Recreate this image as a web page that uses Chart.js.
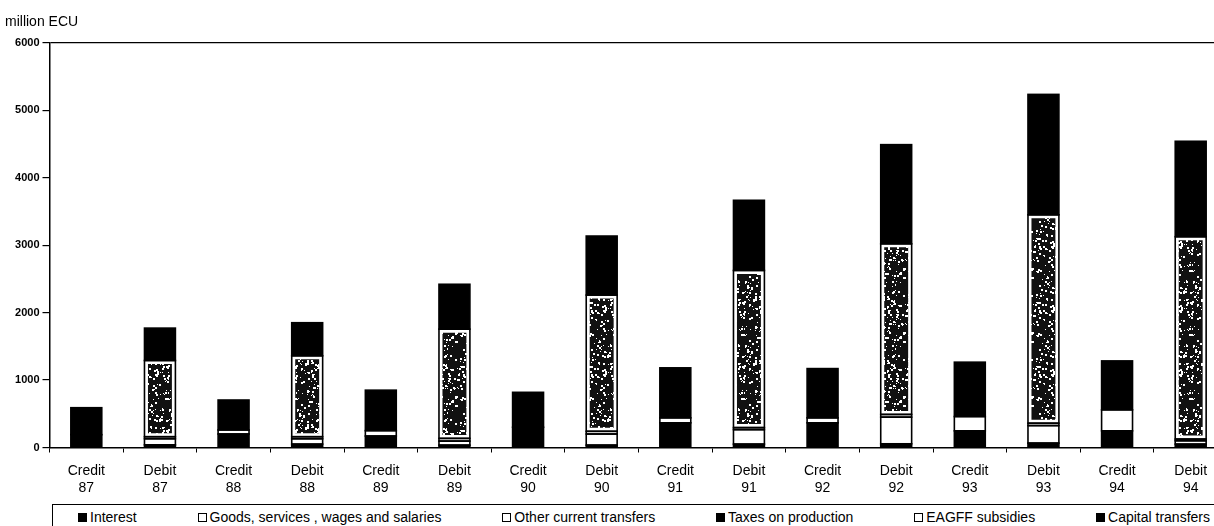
<!DOCTYPE html>
<html>
<head>
<meta charset="utf-8">
<script src="https://cdn.jsdelivr.net/npm/chart.js@4.4.1/dist/chart.umd.min.js"></script>
<style>
html,body{margin:0;padding:0;background:#fff;overflow:hidden;}
#wrap{position:relative;width:1214px;height:526px;overflow:hidden;background:#fff;}
#inner{position:absolute;left:0;top:0;width:1230px;height:526px;}
#c{position:absolute;left:0;top:0;}
#legend{position:absolute;left:52px;top:504px;width:1178px;height:30px;border-top:1.5px solid #000;border-left:1.5px solid #000;box-sizing:border-box;display:flex;align-items:flex-start;justify-content:space-between;padding:4px 20px 0 25px;font:14px "Liberation Sans",Arial,sans-serif;line-height:17px;color:#000;}
.item{display:flex;align-items:center;white-space:nowrap;height:17px;}
.box{display:inline-block;width:9px;height:9px;border:1.5px solid #000;margin-right:3px;box-sizing:border-box;}
</style>
</head>
<body>
<div id="wrap"><div id="inner">
<canvas id="c" width="1230" height="504"></canvas>
<div id="legend"></div>
</div></div>
<script>
// ---- data (million ECU) ----
const categories = [
  ["Credit","87"],["Debit","87"],["Credit","88"],["Debit","88"],
  ["Credit","89"],["Debit","89"],["Credit","90"],["Debit","90"],
  ["Credit","91"],["Debit","91"],["Credit","92"],["Debit","92"],
  ["Credit","93"],["Debit","93"],["Credit","94"],["Debit","94"]
];
const seriesNames = ["Interest","Goods, services , wages and salaries","Other current transfers","Taxes on production","EAGFF subsidies","Capital transfers"];
const interest  = [190, 40, 200, 50, 170, 35, 300, 35, 366, 50, 366, 55, 247, 65, 247, 50];
const goods     = [0, 90, 0, 80, 0, 60, 0, 165, 0, 215, 0, 395, 0, 260, 0, 50];
const otherCur  = [0, 30, 60, 30, 80, 40, 0, 40, 74, 30, 74, 40, 212, 35, 312, 25];
const taxes     = [400, 0, 444, 0, 600, 0, 518, 0, 741, 0, 730, 0, 806, 0, 725, 0];
const eagff     = [0, 1130, 0, 1200, 0, 1620, 0, 2020, 0, 2330, 0, 2530, 0, 3090, 0, 3000];
const capital   = [0, 480, 0, 490, 0, 665, 0, 875, 0, 1040, 0, 1470, 0, 1785, 0, 1415];
const yTicks    = [0, 1000, 2000, 3000, 4000, 5000, 6000];

const FONT = '"Liberation Sans", Arial, sans-serif';

// speckled texture for the EAGFF segments
function stipple(){
  const s = 64;
  const c = document.createElement('canvas'); c.width = s; c.height = s;
  const g = c.getContext('2d');
  g.fillStyle = '#111'; g.fillRect(0,0,s,s);
  g.fillStyle = '#fff';
  let seed = 7;
  const rnd = () => { seed = (seed * 16807) % 2147483647; return seed / 2147483647; };
  for (let k = 0; k < 260; k++) {
    const x = rnd() * s, y = rnd() * s, r = 0.5 + rnd() * 1.0;
    g.fillRect(Math.floor(x), Math.floor(y), Math.ceil(r), Math.ceil(r));
  }
  return g.createPattern(c, 'repeat');
}
const pat = stipple();

const fills = ['#000', '#fff', '#fff', '#000', pat, '#000'];
const values = [interest, goods, otherCur, taxes, eagff, capital];

const datasets = seriesNames.map((name, i) => ({
  label: name,
  data: values[i],
  backgroundColor: fills[i],
  borderColor: i === 4 ? '#fff' : '#000',
  borderWidth: i === 4 ? 3.5 : 0,
  borderSkipped: false,
  categoryPercentage: 1,
  barPercentage: 0.42
}));

const outline = {
  id: 'outline',
  afterDatasetsDraw(chart){
    const ctx = chart.ctx;
    ctx.save();
    ctx.strokeStyle = '#000';
    ctx.lineWidth = 1.6;
    chart.data.datasets.forEach((ds, i) => {
      const meta = chart.getDatasetMeta(i);
      meta.data.forEach(el => {
        const p = el.getProps(['x','y','base','width'], true);
        if (Math.abs(p.base - p.y) < 0.5) return;
        ctx.strokeRect(p.x - p.width/2, Math.min(p.y, p.base), p.width, Math.abs(p.base - p.y));
      });
    });
    ctx.restore();
  }
};

new Chart(document.getElementById('c'), {
  type: 'bar',
  data: { labels: categories, datasets },
  plugins: [outline],
  options: {
    responsive: false,
    animation: false,
    layout: { padding: { left: 5, right: 2.5, top: 0, bottom: 0 } },
    plugins: {
      legend: { display: false },
      tooltip: { enabled: false },
      title: {
        display: true, text: 'million ECU', align: 'start', color: '#000',
        font: { family: FONT, size: 14, weight: 'normal' },
        padding: { top: 14, bottom: 12 }
      }
    },
    scales: {
      x: {
        stacked: true,
        grid: { display: true, drawOnChartArea: false, offset: true, tickLength: 5, tickColor: '#000', tickWidth: 1 },
        border: { color: '#000', width: 1.5 },
        ticks: { color: '#000', font: { family: FONT, size: 14 }, padding: 10, maxRotation: 0, autoSkip: false },
        afterFit: s => { s.height = 56.5; }
      },
      y: {
        stacked: true, min: 0, max: 6000,
        afterBuildTicks: s => { s.ticks = yTicks.map(v => ({ value: v })); },
        ticks: { color: '#000', font: { family: FONT, size: 11, weight: 'bold' }, padding: 3, callback: v => String(v) },
        grid: {
          color: c => (c.tick && c.tick.value === 6000) ? '#000' : 'rgba(0,0,0,0)',
          tickColor: '#000', tickLength: 7, lineWidth: 1.2
        },
        border: { color: '#000', width: 1.5 },
        afterFit: s => { s.width = 44.5; }
      }
    }
  }
});

// legend built from series names
const legendStyles = ['#000', '#fff', '#fff', '#000', '#fff', '#000'];
const lg = document.getElementById('legend');
seriesNames.forEach((n, i) => {
  const it = document.createElement('span'); it.className = 'item';
  const b = document.createElement('span'); b.className = 'box'; b.style.background = legendStyles[i];
  const t = document.createElement('span'); t.textContent = n;
  it.appendChild(b); it.appendChild(t); lg.appendChild(it);
});
</script>
</body>
</html>
